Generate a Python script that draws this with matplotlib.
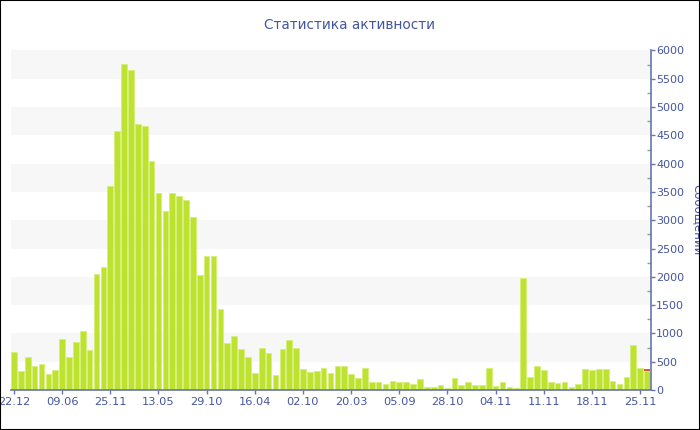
import numpy as np
import matplotlib
matplotlib.use('Agg')
import matplotlib.pyplot as plt
from matplotlib.patches import Rectangle

# messages per period
messages = [
    667, 336, 589, 424, 454, 283, 354, 902, 578, 843, 1043, 707, 2051, 2180,
    3612, 4579, 5758, 5658, 4697, 4673, 4049, 3477, 3165, 3488, 3435, 3365, 3053, 2033,
    2369, 2369, 1437, 836, 955, 725, 589, 300, 737, 660, 265, 725, 884, 748,
    371, 318, 342, 395, 300, 430, 430, 277, 218, 383, 147, 136, 112, 159,
    141, 147, 112, 194, 59, 47, 83, 38, 212, 83, 147, 83, 83, 389,
    65, 147, 47, 41, 1986, 236, 424, 348, 141, 124, 141, 53, 112, 371,
    359, 365, 377, 165, 112, 224, 801, 389, 342,
]
# small red piece stacked on the last (current) bar
last_extra = 37

tick_labels = ['22.12', '09.06', '25.11', '13.05', '29.10', '16.04', '02.10',
               '20.03', '05.09', '28.10', '04.11', '11.11', '18.11', '25.11']

title = 'Статистика активности'
ylabel = 'Сообщений'

text_color = '#4456a0'
axis_color = '#6875ad'
bar_color = '#bde22f'
edge_color = '#d6ef78'
red_color = '#e2582b'
band_color = '#f7f7f7'

fig = plt.figure(figsize=(7, 4.3), dpi=100)
ax = fig.add_axes([10.5 / 700, 40 / 430, 640 / 700, 339.5 / 430])

x = np.arange(len(messages))
ax.bar(x, messages, width=0.82, color=bar_color, edgecolor=edge_color, linewidth=0.6, zorder=2)
ax.bar(x[-1], last_extra, bottom=messages[-1], width=0.82, color=red_color, linewidth=0, zorder=2)

ax.set_xlim(-0.5, len(messages) - 0.5)
ax.set_ylim(0, 6000)

# alternating light bands
for lo in range(500, 6000, 1000):
    ax.axhspan(lo, lo + 500, color=band_color, zorder=0, linewidth=0)

ax.set_xticks(x[::7])
ax.set_xticklabels(tick_labels)
ax.yaxis.tick_right()
ax.set_yticks(np.arange(0, 6001, 500))
ax.set_yticks(np.arange(250, 6000, 500), minor=True)

for s in ['top', 'left']:
    ax.spines[s].set_visible(False)
for s in ['bottom', 'right']:
    ax.spines[s].set_color(axis_color)
    ax.spines[s].set_linewidth(1.2)

ax.tick_params(axis='x', colors=axis_color, labelcolor=text_color, labelsize=8.2,
               length=3, width=1, pad=2)
ax.tick_params(axis='y', which='major', colors=axis_color, labelcolor=text_color,
               labelsize=8, length=3, width=1, pad=1, direction='out')
ax.tick_params(axis='y', which='minor', colors='#999999', length=3, width=1, direction='in')

fig.text(0.5, 1 - 25 / 430, title, ha='center', va='center', fontsize=9.8, color=text_color)
fig.text(698 / 700, 1 - 220 / 430, ylabel, ha='center', va='center', rotation=270,
         fontsize=8.5, color=text_color)

fig.patches.append(Rectangle((0, 0), 1, 1, transform=fig.transFigure, fill=False,
                             edgecolor='black', linewidth=1.5, zorder=10))

fig.savefig('out.png', dpi=100)
